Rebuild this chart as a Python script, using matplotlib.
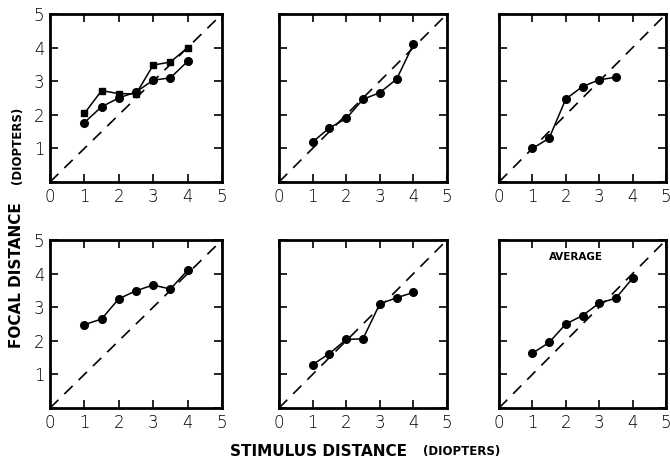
import matplotlib.pyplot as plt

# stimulus distances (diopters)
stim = [1, 1.5, 2, 2.5, 3, 3.5, 4]

# focal distance responses
p1_sq = [2.04, 2.72, 2.63, 2.62, 3.48, 3.57, 4.0]
p1_ci = [1.77, 2.24, 2.50, 2.68, 3.03, 3.10, 3.59]
p2 = [1.19, 1.61, 1.89, 2.46, 2.66, 3.06, 4.10]
p3_x = [1, 1.5, 2, 2.5, 3, 3.5]
p3 = [1.00, 1.30, 2.47, 2.84, 3.04, 3.12]
p4 = [2.48, 2.65, 3.25, 3.49, 3.66, 3.54, 4.10]
p5 = [1.29, 1.62, 2.04, 2.06, 3.10, 3.28, 3.44]
avg = [1.63, 1.95, 2.50, 2.75, 3.12, 3.27, 3.86]

tick_vals = [0, 1, 2, 3, 4, 5]

W, H = 670, 462
fig = plt.figure(figsize=(6.7, 4.62), dpi=100)

# panel boxes in pixels: (left, top, width, height)
cols = [(50, 172), (279, 168), (499, 167)]
rows = [14, 240]

def make_ax(r, c):
    left, w = cols[c]
    top = rows[r]
    h = 168
    ax = fig.add_axes([left / W, 1 - (top + h) / H, w / W, h / H])
    ax.set_xlim(0, 5)
    ax.set_ylim(0, 5)
    ax.set_xticks(tick_vals)
    ax.set_yticks(tick_vals)
    ax.tick_params(direction='in', length=6, width=1.2, top=True, right=True,
                   labelsize=12, pad=4)
    ax.set_xticklabels([str(v) for v in tick_vals], fontweight='light')
    if c == 0:
        ax.set_yticklabels([''] + [str(v) for v in tick_vals[1:]],
                           fontweight='light')
    else:
        ax.set_yticklabels([])
    for s in ax.spines.values():
        s.set_linewidth(2)
    # unity line
    ax.plot([0, 5], [0, 5], color='black', lw=1.2, linestyle=(0, (7, 5)))
    return ax

def curve(ax, x, y, m='o', ms=5.5):
    ax.plot(x, y, color='black', lw=1.1, marker=m, ms=ms)

ax = make_ax(0, 0)
curve(ax, stim, p1_sq, m='s', ms=4.5)
curve(ax, stim, p1_ci)

ax = make_ax(0, 1)
curve(ax, stim, p2)

ax = make_ax(0, 2)
curve(ax, p3_x, p3)

ax = make_ax(1, 0)
curve(ax, stim, p4)

ax = make_ax(1, 1)
curve(ax, stim, p5)

ax = make_ax(1, 2)
curve(ax, stim, avg)
ax.text(2.3, 4.5, 'AVERAGE', ha='center', va='center', fontsize=7.5,
        fontweight='bold')

# axis titles
fig.text(17 / W, 1 - 275 / H, 'FOCAL DISTANCE', rotation=90, ha='center',
         va='center', fontsize=11, fontweight='bold')
fig.text(18 / W, 1 - 145 / H, '(DIOPTERS)', rotation=90, ha='center',
         va='center', fontsize=8.5, fontweight='bold')
fig.text(318 / W, 1 - 452 / H, 'STIMULUS DISTANCE', ha='center', va='center',
         fontsize=11, fontweight='bold')
fig.text(462 / W, 1 - 452 / H, '(DIOPTERS)', ha='center', va='center',
         fontsize=8.5, fontweight='bold')

fig.savefig('out.png', dpi=100)
